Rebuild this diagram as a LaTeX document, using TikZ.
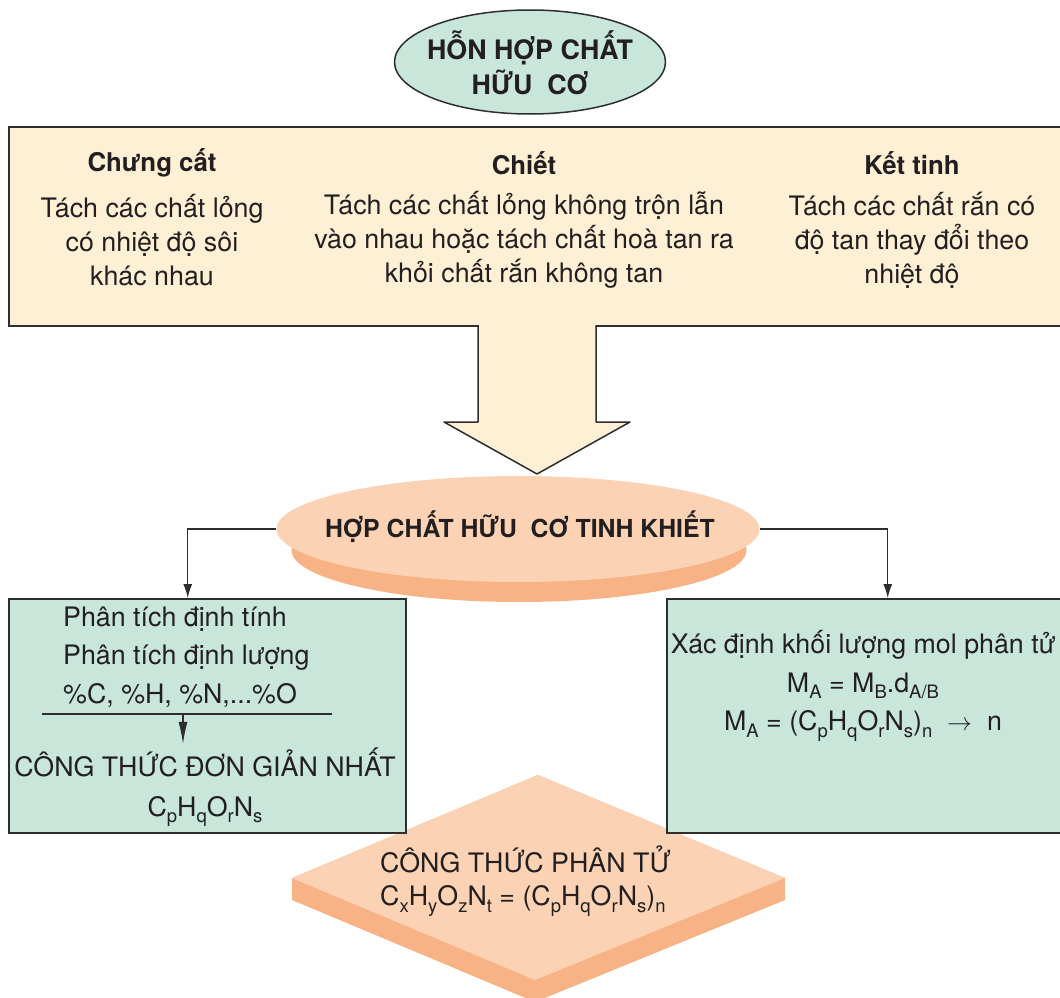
\documentclass[tikz,border=0pt]{standalone}
\usepackage{fontspec}
\setmainfont{TeX Gyre Heros}
\usepackage{tikz}
\usetikzlibrary{positioning, shapes.geometric, arrows.meta}
\definecolor{mintGreen}{HTML}{C9E6DB}
\definecolor{creamBeige}{HTML}{FEF0D5}
\definecolor{peachLight}{HTML}{FBD3B4}
\definecolor{peachDark}{HTML}{F7B385}
\definecolor{lineGrey}{HTML}{2E2E2E}
\definecolor{inkBlack}{HTML}{231F20}
\newcommand{\sbs}[1]{\raisebox{-6.5pt}{\fontsize{18.5}{18.5}\selectfont #1}}

\begin{document}
\begin{tikzpicture}[x=1pt, y=-1pt, font=\fontsize{26.8}{34}\selectfont, text=inkBlack,
    box/.style={draw=lineGrey, line width=1.5pt, anchor=north west, inner sep=0pt},
    head/.style={font=\fontsize{25.8}{35}\selectfont\bfseries},
    link/.style={-{Latex[length=14pt,width=9pt]}, line width=1.3pt, lineGrey}]
  \useasboundingbox (0,0) rectangle (1060,998);
  \clip (0,0) rectangle (1060,998);

  \node[ellipse, draw=lineGrey, line width=1.5pt, fill=mintGreen,
        minimum width=271, minimum height=104] (mix) at (530,62) {};
  \node[head, font=\fontsize{26.8}{35}\selectfont\bfseries, align=center] at ([yshift=-1pt]mix) {HỖN HỢP CHẤT\\HỮU~~CƠ};

  \node[box, fill=creamBeige, minimum width=1110, minimum height=199] (sep) at (8,126) {};
  \node[head] (dist) at (152,163) {Chưng cất};
  \node[head] (extr) at (524,163) {Chiết};
  \node[head] (cryst) at (912,163) {Kết tinh};
  \node[below=13pt of dist, align=center, inner sep=0pt] (distTxt)
    {Tách các chất lỏng\\có nhiệt độ sôi\\khác nhau};
  \node[below=13pt of extr, align=center, inner sep=0pt] (extrTxt)
    {Tách các chất lỏng không trộn lẫn\\vào nhau hoặc tách chất hoà tan ra\\khỏi chất rắn không tan};
  \node[below=14pt of cryst, align=center, inner sep=0pt] (crystTxt)
    {Tách các chất rắn có\\độ tan thay đổi theo\\nhiệt độ};

  \fill[creamBeige] (478,322) -- (478,422) -- (444,422) -- (537,474)
    -- (630,422) -- (596,422) -- (596,322) -- cycle;
  \draw[lineGrey, line width=1.5pt, line join=round] (478,325) -- (478,422) -- (444,422)
    -- (537,474) -- (630,422) -- (596,422) -- (596,325);

  \fill[peachDark] (292,878) -- (538,775) -- (785,878) -- (785,900)
    -- (535,1002) -- (292,900) -- cycle;
  \fill[peachLight] (538,775) -- (785,878) -- (535,980) -- (292,878) -- cycle;
  \node[anchor=west, align=left, inner sep=0pt, font=\fontsize{26.8}{33}\selectfont] (formula) at (380,881)
    {CÔNG THỨC PHÂN TỬ\\C\sbs{x}H\sbs{y}O\sbs{z}N\sbs{t} = (C\sbs{p}H\sbs{q}O\sbs{r}N\sbs{s})\sbs{n}};

  \node[ellipse, fill=peachDark, minimum width=455, minimum height=104] (pureShade) at (519,550) {};
  \node[ellipse, fill=peachLight, minimum width=483, minimum height=106] (pure) at (518,529) {};
  \node[head, font=\fontsize{24.8}{35}\selectfont\bfseries] at ([yshift=2pt,xshift=2pt]pure) {HỢP CHẤT HỮU~~CƠ TINH KHIẾT};

  \node[box, fill=mintGreen, minimum width=397, minimum height=234] (anal) at (8,598) {};
  \node[box, fill=mintGreen, minimum width=442, minimum height=234] (molar) at (666,598) {};

  \draw[link] (pure.west) -| ([xshift=-19.5pt]anal.north);
  \draw[link] (pure.east) -| (molar.north);

  \node[anchor=west, align=left, inner sep=0pt, font=\fontsize{26.8}{38.5}\selectfont] (elem) at (63,657)
    {Phân tích định tính\\Phân tích định lượng\\\%C, \%H, \%N,...\%O};
  \draw[lineGrey, line width=1.2pt] (42,714) coordinate (ruleL) -- (332,714) coordinate (ruleR);
  \coordinate (ruleMid) at (183,714);
  \node[align=center, font=\fontsize{26.8}{40}\selectfont] (simp) at (205,787)
    {CÔNG THỨC ĐƠN GIẢN NHẤT\\C\sbs{p}H\sbs{q}O\sbs{r}N\sbs{s}};
  \draw[-{Latex[length=22pt,width=9pt]}, line width=1.2pt, lineGrey] (ruleMid) -- (ruleMid |- simp.north);

  \node[align=center, font=\fontsize{26.8}{38.5}\selectfont] (mass) at (863,686)
    {Xác định khối lượng mol phân tử\\M\sbs{A} = M\sbs{B}.d\sbs{A/B}\\M\sbs{A} = (C\sbs{p}H\sbs{q}O\sbs{r}N\sbs{s})\sbs{n} ~$\rightarrow$~ n};
\end{tikzpicture}
\end{document}
